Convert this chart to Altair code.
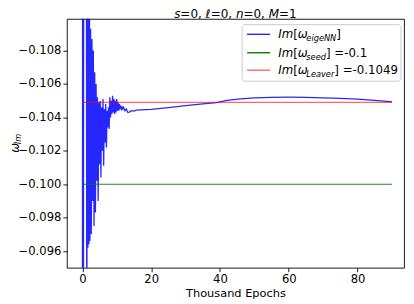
import altair as alt
import pandas as pd

# ---------------- data ----------------
epochs = [0.0, 0.15, 0.3, 0.45, 1.1, 1.3, 1.45, 1.6, 1.75, 1.9, 2.05, 2.2,
          2.4, 2.6, 2.8, 3.0, 3.2, 3.4, 3.6, 3.8, 4.0, 4.2, 4.4, 4.6, 4.8, 5.0,
          5.2, 5.4, 5.6, 5.8, 6.0, 6.2, 6.4, 6.6, 6.8, 7.0, 7.2, 7.4, 7.6, 7.8,
          8.0, 8.2, 8.4, 8.6, 8.8, 9.0, 9.2, 9.4, 9.6, 9.8, 10.0, 10.2, 10.4,
          10.6, 10.8, 11.0, 11.2, 11.4, 11.6, 11.8, 12.0,
          12.4, 12.8, 13.2, 13.7, 14.2, 15.0, 15.7, 17.0, 20.0, 25.0, 30.0,
          35.0, 39.0, 42.0, 46.0, 50.0, 55.0, 60.0, 65.0, 70.0, 75.0, 80.0,
          85.0, 90.0]
im_omega = [-0.080, -0.140, -0.080, -0.140, -0.140, -0.085, -0.130, -0.0962,
            -0.1200, -0.0964, -0.1140, -0.0966,
            -0.1093, -0.0970, -0.1087, -0.0990, -0.1080, -0.0975, -0.1067,
            -0.0983, -0.1060, -0.1002, -0.1052, -0.0990, -0.1049, -0.1012,
            -0.1050, -0.1004, -0.1046, -0.1020, -0.1051, -0.1011, -0.1045,
            -0.1025, -0.1048, -0.1022, -0.1044, -0.1034, -0.1046, -0.1033,
            -0.1052, -0.1040, -0.1050, -0.1042, -0.1053, -0.1043, -0.1051,
            -0.1042, -0.1050, -0.1043, -0.1051, -0.1044, -0.1049, -0.1044,
            -0.1048, -0.1045, -0.1047, -0.1045, -0.1046, -0.1045, -0.1046,
            -0.1044, -0.1045, -0.1043, -0.10432, -0.1044, -0.10438, -0.10443,
            -0.10445, -0.10448, -0.10459, -0.10470, -0.10481, -0.10489,
            -0.10502, -0.10511, -0.10517, -0.10520, -0.10521, -0.10520,
            -0.10517, -0.10514, -0.10509, -0.10502, -0.10493]
seed_value = -0.1
leaver_value = -0.1049
ref_line_span = [0.0, 90.0]

x_ticks = [0, 20, 40, 60, 80]
y_ticks = [-0.108, -0.106, -0.104, -0.102, -0.100, -0.098, -0.096]
x_title = "Thousand Epochs"

title_parts = [("s", True), ("=0, ", False), ("ℓ", True), ("=0, ", False),
               ("n", True), ("=0, ", False), ("M", True), ("=1", False)]
legend_subs = ["eigeNN", "seed", "Leaver"]
legend_tails = ["", " =-0.1", " =-0.1049"]
legend_colors = ["#0000ff", "#008000", "#ff0000"]
legend_opac = [0.85, 1.0, 0.6]

# ---------------- layout / style ----------------
W_PLOT, H_PLOT = 338, 249.5
FONT = "DejaVu Sans"
BLUE, GREEN, RED = legend_colors

# DejaVu Sans advance widths (em) for positioning mixed-style text pieces
ADV = {' ': .318, '=': .838, '-': .361, '.': .318, ',': .318, '[': .390,
       ']': .390, 'I': .295, 'm': .974, 'e': .615, 'i': .278, 'g': .635,
       'N': .748, 's': .521, 'd': .635, 'L': .557, 'a': .613, 'v': .592,
       'r': .411, 'n': .634, 'M': .863, 'ω': .72, 'ℓ': .42}
for dch in "0123456789":
    ADV[dch] = .636


def tw(s, fs):
    return sum(ADV.get(c, .6) for c in s) * fs


dummy = alt.Data(values=[{"d": 0}])


def txt(text, x, y, size, italic, angle=None):
    lead = len(text) - len(text.lstrip(" "))
    x = x + lead * ADV[" "] * size
    kw = dict(text=text.strip(" "), fontSize=size, font=FONT, align="left",
              baseline="alphabetic", color="black",
              fontStyle="italic" if italic else "normal")
    if angle is not None:
        kw["angle"] = angle
    return alt.Chart(dummy).mark_text(**kw).encode(x=alt.value(x), y=alt.value(y))


# ---------------- data layers ----------------
df = pd.DataFrame({"epoch": epochs, "im": im_omega})
ref_df = pd.DataFrame({"x0": [ref_line_span[0]] * 2, "x1": [ref_line_span[1]] * 2,
                       "y": [seed_value, leaver_value], "k": ["seed", "leaver"]})

xs = alt.Scale(domain=[-4.5, 93.5], nice=False, zero=False)
ys = alt.Scale(domain=[-0.1099, -0.0950], nice=False, zero=False, reverse=True)
xaxis = alt.Axis(values=x_ticks, format="d", title=x_title)
yaxis = alt.Axis(values=y_ticks, format=".3f", title=None)

blue = alt.Chart(df).mark_line(color=BLUE, strokeWidth=1.3, opacity=0.85,
                               clip=True).encode(
    x=alt.X("epoch:Q", scale=xs, axis=xaxis),
    y=alt.Y("im:Q", scale=ys, axis=yaxis),
    order="epoch:Q")

green = alt.Chart(ref_df[ref_df.k == "seed"]).mark_rule(
    color=GREEN, strokeWidth=1.1, opacity=0.9).encode(
    x=alt.X("x0:Q", scale=xs, axis=xaxis), x2="x1:Q",
    y=alt.Y("y:Q", scale=ys, axis=yaxis))

red = alt.Chart(ref_df[ref_df.k == "leaver"]).mark_rule(
    color=RED, strokeWidth=1.4, opacity=0.6).encode(
    x=alt.X("x0:Q", scale=xs, axis=xaxis), x2="x1:Q",
    y=alt.Y("y:Q", scale=ys, axis=yaxis))

layers = [blue, green, red]

# ---------------- title (mixed italic) ----------------
TFS = 12
total = sum(tw(t, TFS) for t, _ in title_parts)
cx = W_PLOT / 2 - total / 2
for t, it in title_parts:
    layers.append(txt(t, cx, -1.2, TFS, it))
    cx += tw(t, TFS)

# ---------------- legend ----------------
layers.append(alt.Chart(dummy).mark_rect(
    fill="white", fillOpacity=0.8, stroke="#cccccc", strokeWidth=1,
    cornerRadius=3).encode(x=alt.value(175.7), x2=alt.value(335),
                           y=alt.value(5.8), y2=alt.value(62.5)))
LFS = 11.8
SFS = LFS * 0.7
rows_y = [15.5, 34.0, 51.5]
for i in range(3):
    ry = rows_y[i]
    layers.append(alt.Chart(dummy).mark_rule(
        color=legend_colors[i], strokeWidth=1.4, opacity=legend_opac[i]).encode(
        x=alt.value(180.7), x2=alt.value(203.7), y=alt.value(ry)))
    bx = 212
    by = ry + 4.2
    pieces = [("Im", True, False), ("[", False, False), ("ω", True, False),
              (legend_subs[i], True, True), ("]", False, False),
              (legend_tails[i], False, False)]
    for t, it, sub in pieces:
        if not t:
            continue
        fs = SFS if sub else LFS
        layers.append(txt(t, bx, by + (2.6 if sub else 0), fs, it))
        bx += tw(t, fs)

# ---------------- y axis title (rotated, with subscript) ----------------
YFS = 11.8
wy = tw("ω", YFS) + tw("Im", YFS * 0.7)
y0 = H_PLOT / 2 + wy / 2
layers.append(txt("ω", -47.5, y0, YFS, True, angle=270))
layers.append(txt("Im", -47.5 + 2.0, y0 - tw("ω", YFS), YFS * 0.7, True, angle=270))

chart = alt.layer(*layers).properties(
    width=W_PLOT, height=H_PLOT,
    autosize=alt.AutoSizeParams(type="none"),
    padding={"left": 59, "top": 10.5, "right": 2, "bottom": 36},
    background="white",
).configure_view(stroke="black", strokeWidth=0.9).configure_axis(
    grid=False, domain=False, tickColor="black", tickSize=4, tickWidth=0.9,
    labelColor="black", labelFont=FONT, labelFontSize=11.6, labelPadding=2,
    titleFont=FONT, titleFontSize=11.4, titleFontWeight="normal",
    titleColor="black", titlePadding=2,
)

chart.save("out.html", embed_options={"renderer": "svg", "actions": False})
